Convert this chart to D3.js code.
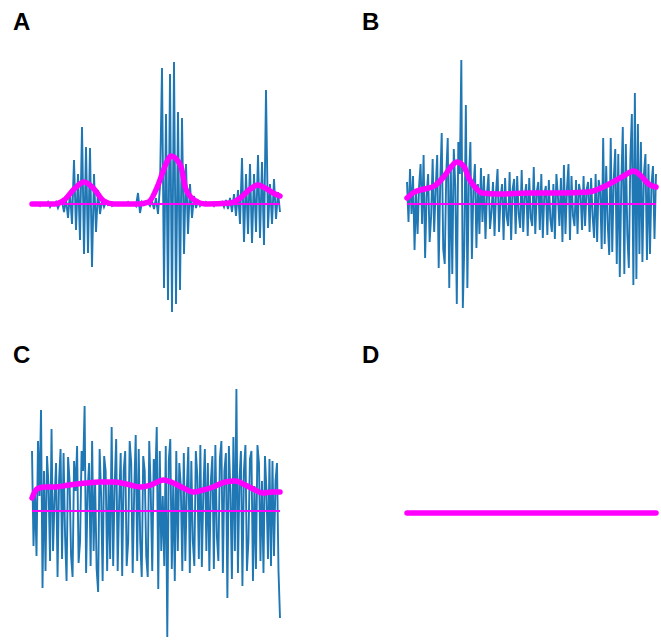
<!DOCTYPE html>
<html>
<head>
<meta charset="utf-8">
<script src="https://cdn.jsdelivr.net/npm/d3@7"></script>
<style>
  body { margin: 0; background: #fff; }
  .panel-label { font-family: "Liberation Sans", Arial, sans-serif; font-weight: bold; font-size: 24px; fill: #000; }
</style>
</head>
<body>
<div id="chart"></div>
<script>
// panel labels
const panelLabels = ['A', 'B', 'C', 'D'];

// raw signal samples (amplitude, arbitrary units)
const signalA = [
  0, -1, 1, 0, -2, 1, 0, -1, 2, -3, 1, -1, 2, -4, 1,
  3, -8, 5, -14, 12, -20, 44, -26, 30, -36, 77, -50, 57, -49, 56, -63, 30, -28, 14, -10,
  4, -3, 2, -1, 1, -2, 0, 1, -1, 0, 1, -1, 0, 2, -1, 0, 1, -2, 11, -9, 2, -1, 0, 1, -2, 3, -5, 6, -10, 18,
  136, -84, 90, -96, 130, -108, 142, -100, 92, -86, 86, -50, 40, -30, 20, -14, 8, -4,
  3, -2, 1, -1, 2, 0, -1, 1, -2, 1, 0, -1, 2, -3, 4, -5, 6, -8, 10, -12, 14,
  -20, 46, -38, 30, -30, 40, -39, 30, -28, 49, -34, 42, -41, 114, -24, 20, -20, 25, -15, 12, -8
];
const signalB = [
  22, -18, 35, -10, 28, -46, 12, -30, 18, 40,
  -20, 49, -54, 8, 30, -38, -12, 45, -28, 15,
  49, -64, 20, 71, -45, -60, 30, 66, -84, 40,
  -70, 55, 18, -100, 62, 30, 144, -104, -40, 99,
  -84, 25, 62, -55, 15, 40, -44, 20, -30, 36,
  -18, 28, -35, 10, 30, -25, -8, 22, -32, 12,
  35, -28, 6, 20, -36, 26, -12, -22, 32, -36,
  15, 25, -30, 28, -10, -24, 34, -28, 8, 20,
  -32, 26, -14, -22, 37, -30, 12, 22, -26, 30,
  -34, 10, 18, -31, 24, -15, -28, 20, -35, 30,
  8, -22, 26, -38, 39, -30, 15, 40, -36, 28,
  -12, -22, 24, -30, 20, 10, -26, 28, -22, 14,
  22, -28, 26, -12, -34, 30, -38, 24, 15, -45,
  66, -40, 38, -20, -51, 66, -48, 25, 55, -60,
  50, -73, 20, 77, -70, 60, -30, -64, 45, 90,
  -81, 111, -75, 80, -50, 62, -58, 30, 50, -56,
  40, -50, 20, 38, -35, 30
];
const signalC = [
  60, -35, 20, -45, 70, 15, 101, -77, 40, -60,
  55, 25, -50, 82, -40, 10, 48, -66, 30, 62,
  -48, 58, -25, -70, 54, 30, -45, -66, 50, 20,
  65, -52, -30, 60, 40, 105, -62, 20, 48, -55,
  70, -40, 30, -58, -81, 62, 15, -70, 55, 40,
  -60, 30, -48, 84, -55, 25, 72, -60, 10, 58,
  -65, 40, 60, -55, -30, 70, 48, -62, 20, 76,
  -50, 62, -30, -66, 55, 40, -45, -66, 70, 20,
  -60, 52, 30, 84, -78, 60, -40, 15, -55, 65,
  -126, 50, 72, -58, 30, -70, 60, -40, 48, 25,
  -60, 58, -50, 20, 64, -62, 50, -30, -55, 60,
  35, -48, 66, -56, 20, 62, -40, 48, -60, 30,
  55, -58, 66, -25, -50, 52, 70, -62, 40, 58,
  -87, 65, 20, -68, 74, -40, 122, -62, 30, 60,
  -75, 40, 66, -60, -30, 52, 60, -70, 25, -58,
  66, 48, -50, 30, -62, 55, 20, -48, 52, -55,
  50, -45, 30, 48, -60, -107
];
const signalD = [0, 0, 0, 0, 0];

// envelope (smoothed amplitude), position as fraction of the trace, value in same units
const envPosA = [0, 0.09, 0.13, 0.17, 0.21, 0.25, 0.29, 0.33, 0.43, 0.47, 0.51, 0.54, 0.56, 0.6, 0.62, 0.66, 0.7, 0.8, 0.84, 0.88, 0.91, 0.94, 0.98, 1];
const envValA = [0, 0, 4, 15, 22, 15, 3, 0, 0, 2, 20, 40, 48, 38, 15, 3, 0, 1, 6, 15, 19, 16, 10, 8];
const envPosB = [0, 0.03, 0.07, 0.11, 0.15, 0.18, 0.2, 0.23, 0.25, 0.28, 0.3, 0.37, 0.49, 0.61, 0.73, 0.77, 0.82, 0.87, 0.91, 0.94, 0.97, 1];
const envValB = [6, 12, 15, 18, 28, 38, 42, 37, 25, 15, 11, 10, 11, 11, 12, 15, 21, 28, 33, 28, 20, 17];
const envPosC = [0, 0.02, 0.05, 0.09, 0.15, 0.22, 0.27, 0.33, 0.38, 0.44, 0.48, 0.53, 0.57, 0.61, 0.65, 0.69, 0.73, 0.78, 0.82, 0.86, 0.9, 0.93, 0.97, 1];
const envValC = [13, 22, 24, 24, 26, 28, 29, 29, 27, 24, 26, 31, 28, 23, 19, 21, 24, 29, 30, 26, 21, 18, 19, 19];
const envPosD = [0, 1];
const envValD = [0, 0];

const width = 661, height = 643;
const svg = d3.select('#chart').append('svg').attr('width', width).attr('height', height);

const panels = [
  { label: panelLabels[0], lx: 13, ly: 30, x0: 32, x1: 280, base: 204, sig: signalA, ep: envPosA, ev: envValA },
  { label: panelLabels[1], lx: 362, ly: 30, x0: 407, x1: 656, base: 204, sig: signalB, ep: envPosB, ev: envValB },
  { label: panelLabels[2], lx: 13, ly: 363, x0: 32, x1: 280, base: 511, sig: signalC, ep: envPosC, ev: envValC },
  { label: panelLabels[3], lx: 362, ly: 363, x0: 407, x1: 656, base: 513, sig: signalD, ep: envPosD, ev: envValD }
];

panels.forEach(p => {
  const g = svg.append('g');

  // scales: one unit of amplitude ~ one pixel
  const xScale = d3.scaleLinear().domain([0, p.sig.length - 1]).range([p.x0, p.x1]);
  const xFrac = d3.scaleLinear().domain([0, 1]).range([p.x0, p.x1]);
  const yScale = d3.scaleLinear().domain([-160, 160]).range([p.base + 160, p.base - 160]);

  // raw trace
  const line = d3.line().x((d, i) => xScale(i)).y(d => yScale(d));
  g.append('path')
    .datum(p.sig)
    .attr('fill', 'none')
    .attr('stroke', '#1f77b4')
    .attr('stroke-width', 1.9)
    .attr('d', line);

  // zero line
  g.append('line')
    .attr('x1', xFrac(0)).attr('x2', xFrac(1))
    .attr('y1', yScale(0)).attr('y2', yScale(0))
    .attr('stroke', '#ff00ff')
    .attr('stroke-width', 2);

  // envelope
  const env = d3.line()
    .curve(d3.curveMonotoneX)
    .x(d => xFrac(d[0]))
    .y(d => yScale(d[1]));
  g.append('path')
    .datum(d3.zip(p.ep, p.ev))
    .attr('fill', 'none')
    .attr('stroke', '#ff00ff')
    .attr('stroke-width', 5.5)
    .attr('stroke-linecap', 'round')
    .attr('stroke-linejoin', 'round')
    .attr('d', env);

  svg.append('text')
    .attr('class', 'panel-label')
    .attr('x', p.lx)
    .attr('y', p.ly)
    .text(p.label);
});
</script>
</body>
</html>
